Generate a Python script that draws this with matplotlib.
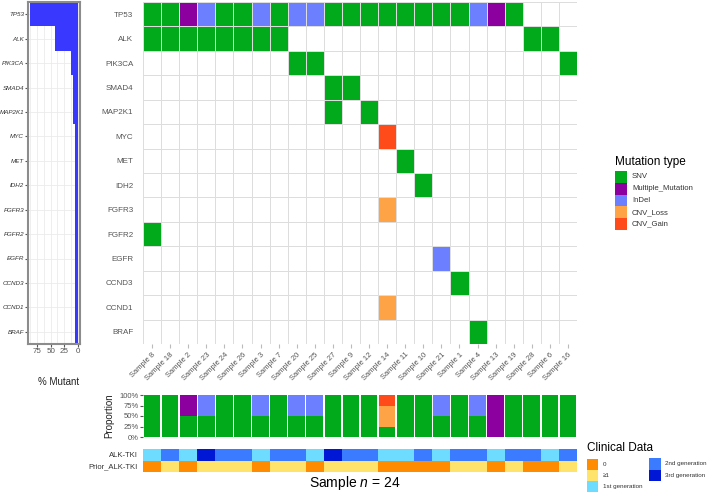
import matplotlib
matplotlib.use("Agg")
import matplotlib.pyplot as plt
import numpy as np
from matplotlib.colors import ListedColormap
from matplotlib.patches import Rectangle

plt.rcParams["font.family"] = ["Liberation Sans", "DejaVu Sans"]
plt.rcParams["mathtext.fontset"] = "custom"
plt.rcParams["mathtext.it"] = "Liberation Sans:italic"
plt.rcParams["mathtext.rm"] = "Liberation Sans"

# Amostras na ordem do gráfico
samples = ["Sample 8", "Sample 18", "Sample 2", "Sample 23", "Sample 24", "Sample 26",
           "Sample 3", "Sample 7", "Sample 20", "Sample 25", "Sample 27", "Sample 9",
           "Sample 12", "Sample 14", "Sample 11", "Sample 10", "Sample 21", "Sample 1",
           "Sample 4", "Sample 13", "Sample 19", "Sample 28", "Sample 6", "Sample 16"]

genes = ["TP53", "ALK", "PIK3CA", "SMAD4", "MAP2K1", "MYC", "MET", "IDH2",
         "FGFR3", "FGFR2", "EGFR", "CCND3", "CCND1", "BRAF"]

# códigos: S=SNV, M=Multiple_Mutation, I=InDel, L=CNV_Loss, G=CNV_Gain, .=nada
tp53   = "S S M I S S I S I I S S S S S S S S I M S . . .".split()
alk    = "S S S S S S S S . . . . . . . . . . . . . S S .".split()
pik3ca = ". . . . . . . . S S . . . . . . . . . . . . . S".split()
smad4  = ". . . . . . . . . . S S . . . . . . . . . . . .".split()
map2k1 = ". . . . . . . . . . S . S . . . . . . . . . . .".split()
myc    = ". . . . . . . . . . . . . G . . . . . . . . . .".split()
met    = ". . . . . . . . . . . . . . S . . . . . . . . .".split()
idh2   = ". . . . . . . . . . . . . . . S . . . . . . . .".split()
fgfr3  = ". . . . . . . . . . . . . L . . . . . . . . . .".split()
fgfr2  = "S . . . . . . . . . . . . . . . . . . . . . . .".split()
egfr   = ". . . . . . . . . . . . . . . . I . . . . . . .".split()
ccnd3  = ". . . . . . . . . . . . . . . . . S . . . . . .".split()
ccnd1  = ". . . . . . . . . . . . . L . . . . . . . . . .".split()
braf   = ". . . . . . . . . . . . . . . . . . S . . . . .".split()
mut_rows = [tp53, alk, pik3ca, smad4, map2k1, myc, met, idh2,
            fgfr3, fgfr2, egfr, ccnd3, ccnd1, braf]

mut_codes = ["S", "M", "I", "L", "G"]
mut_labels = ["SNV", "Multiple_Mutation", "InDel", "CNV_Loss", "CNV_Gain"]
mut_colors = ["#00AA1A", "#8B009E", "#6B7FFF", "#FFA347", "#FF4A1A"]

# dados clínicos
alk_tki = [1, 2, 1, 3, 2, 2, 1, 2, 2, 1, 3, 2, 2, 1, 1, 2, 1, 2, 2, 1, 2, 2, 1, 2]
prior_alk_tki = [0, 1, 0, 1, 1, 1, 0, 1, 1, 0, 1, 1, 1, 0, 0, 0, 0, 1, 1, 0, 1, 0, 0, 1]
prior_labels = ["0", "≥1"]
prior_colors = ["#FF8C00", "#FFE36B"]
gen_labels = ["1st generation", "2nd generation", "3rd generation"]
gen_colors = ["#6EDCFF", "#3A7BFF", "#0018D6"]

W, H = 709, 492
fig = plt.figure(figsize=(W / 100, H / 100), dpi=100)


def ax_px(x0, y0, x1, y1):
    return fig.add_axes([x0 / W, 1 - y1 / H, (x1 - x0) / W, (y1 - y0) / H])


n_s = len(samples)
n_g = len(genes)
mat = np.array([[0 if c == "." else mut_codes.index(c) + 1 for c in row] for row in mut_rows])

# --- painel principal (heatmap) ---
ax = ax_px(143, 2, 577, 344)
cmap = ListedColormap(["white"] + mut_colors)
ax.pcolormesh(np.arange(n_s + 1) - 0.5, np.arange(n_g + 1) - 0.5, mat, cmap=cmap,
              vmin=-0.5, vmax=5.5, edgecolors="#DDDDDD", linewidth=0.7)
ax.set_xlim(-0.5, n_s - 0.5)
ax.set_ylim(n_g - 0.5, -0.5)
ax.set_yticks(range(n_g))
ax.set_yticklabels(genes, fontsize=5.8, color="#555555")
ax.set_xticks(range(n_s))
ax.set_xticklabels(samples, rotation=45, ha="right", rotation_mode="anchor",
                   fontsize=5.5, color="#555555")
ax.tick_params(axis="y", length=0, pad=7)
ax.tick_params(axis="x", length=3, color="#BBBBBB", pad=2)
for s in ax.spines.values():
    s.set_visible(False)

# --- painel da esquerda (% mutante) ---
axl = ax_px(28, 2, 80, 344)
pct = (mat > 0).sum(axis=1) / n_s * 100
axl.barh(range(n_g), pct, height=1.0, color="#3838FF", zorder=2)
axl.set_xlim(91.9, -4.4)
axl.set_ylim(n_g - 0.5, -0.5)
axl.set_yticks(range(n_g))
axl.set_yticklabels(genes, fontsize=4.5, style="italic", color="#333333")
axl.set_xticks([75, 50, 25, 0])
axl.set_xticklabels(["75", "50", "25", "0"], fontsize=5.8, color="#555555")
axl.set_xticks([87.5, 62.5, 37.5, 12.5], minor=True)
axl.grid(True, which="both", color="#EBEBEB", linewidth=0.6, zorder=0)
axl.tick_params(length=2, color="#555555", pad=0.8)
axl.tick_params(which="minor", length=0)
for s in axl.spines.values():
    s.set_color("#8C8C8C")
    s.set_linewidth(1.5)
fig.text(38 / W, 1 - 382 / H, "% Mutant", fontsize=7, va="center", color="#222222")

# --- painel das proporções ---
axp = ax_px(143, 395, 577, 437)
counts = np.array([[(mat[:, j] == k + 1).sum() for j in range(n_s)] for k in range(5)])
props = counts / counts.sum(axis=0)
bottom = np.zeros(n_s)
for k in range(5):
    axp.bar(range(n_s), props[k], bottom=bottom, width=0.92, color=mut_colors[k], linewidth=0)
    bottom += props[k]
axp.set_xlim(-0.5, n_s - 0.5)
axp.set_ylim(0, 1)
axp.set_yticks([0, 0.25, 0.5, 0.75, 1])
axp.set_yticklabels(["0%", "25%", "50%", "75%", "100%"], fontsize=5.5, color="#555555")
axp.set_xticks([])
axp.tick_params(axis="y", length=2, color="#555555", pad=1)
axp.set_ylabel("Proportion", fontsize=7, color="#222222", labelpad=4)
for s in axp.spines.values():
    s.set_visible(False)

# --- dados clínicos ---
axc = ax_px(143, 449, 577, 472)
clin = np.array([[a - 1 for a in alk_tki], [3 + p for p in prior_alk_tki]])
cmap_c = ListedColormap(gen_colors + prior_colors)
axc.pcolormesh(np.arange(n_s + 1) - 0.5, np.arange(3) - 0.5, clin, cmap=cmap_c,
               vmin=-0.5, vmax=4.5)
axc.set_xlim(-0.5, n_s - 0.5)
axc.set_ylim(1.5, -0.5)
axc.set_yticks([0, 1])
axc.set_yticklabels(["ALK-TKI", "Prior_ALK-TKI"], fontsize=5.5, color="#333333")
axc.set_xticks([])
axc.tick_params(axis="y", length=0, pad=4)
for s in axc.spines.values():
    s.set_visible(False)

fig.text(355 / W, 1 - 483 / H, "Sample $n$ = 24", fontsize=10, ha="center", va="center")


# --- legendas ---
def swatch(x0, y0, x1, y1, color):
    fig.add_artist(Rectangle((x0 / W, 1 - y1 / H), (x1 - x0) / W, (y1 - y0) / H,
                             transform=fig.transFigure, facecolor=color, edgecolor="none"))


fig.text(615 / W, 1 - 162 / H, "Mutation type", fontsize=8.5, va="center")
for i, (lab, col) in enumerate(zip(mut_labels, mut_colors)):
    y0 = 171 + i * 11.8
    swatch(615, y0, 627, y0 + 11.8, col)
    fig.text(632 / W, 1 - (y0 + 5.9) / H, lab, fontsize=5.6, va="center", color="#333333")

fig.text(587 / W, 1 - 448 / H, "Clinical Data", fontsize=8.5, va="center")
left_items = list(zip(prior_labels, prior_colors)) + [(gen_labels[0], gen_colors[0])]
for i, (lab, col) in enumerate(left_items):
    y0 = 459 + i * 11
    swatch(587, y0, 598, y0 + 11, col)
    fig.text(603 / W, 1 - (y0 + 5.5) / H, lab, fontsize=4.5, va="center", color="#333333")
for i, (lab, col) in enumerate(zip(gen_labels[1:], gen_colors[1:])):
    y0 = 458 + i * 11.5
    swatch(649, y0, 661, y0 + 11.5, col)
    fig.text(665 / W, 1 - (y0 + 5.75) / H, lab, fontsize=4.5, va="center", color="#333333")

fig.savefig("out.png", dpi=100)
